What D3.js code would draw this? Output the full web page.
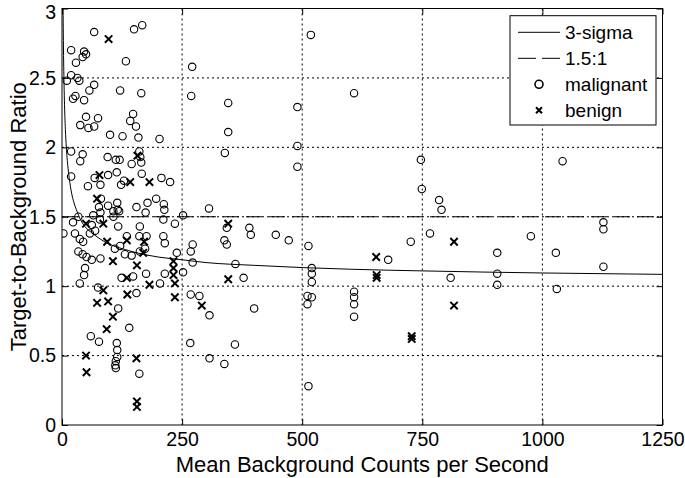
<!DOCTYPE html>
<html>
<head>
<meta charset="utf-8">
<script src="https://cdn.jsdelivr.net/npm/d3@7"></script>
<style>
body{margin:0;background:#fff;}
text{font-family:"Liberation Sans",Arial,sans-serif;fill:#000;}
</style>
</head>
<body>
<svg width="685" height="478"></svg>
<script>
//tick values of both axes
var xTicks = [0, 250, 500, 750, 1000, 1250];
var yTicks = [0, 0.5, 1, 1.5, 2, 2.5, 3];

//3-sigma threshold curve
var sigmaX = [2.25, 2.5, 3, 3.5, 4, 5, 6, 7, 8, 10, 12, 15, 20, 25, 30, 40, 50, 60, 75, 100, 125, 150, 200, 250, 300, 400, 500, 600, 750, 1000, 1250];
var sigmaY = [3.0, 2.9, 2.73, 2.6, 2.5, 2.34, 2.22, 2.13, 2.06, 1.95, 1.87, 1.78, 1.67, 1.6, 1.55, 1.47, 1.42, 1.39, 1.35, 1.3, 1.27, 1.245, 1.21, 1.19, 1.17, 1.15, 1.134, 1.122, 1.11, 1.095, 1.085];

//the fixed 1.5:1 ratio line
var ratioX = [0, 1250];
var ratioY = [1.5, 1.5];

//malignant lesions [mean background cps, target-to-background ratio]
var malignant = [
	[67,2.83],[150,2.85],[167,2.88],[19,2.70],[46,2.69],[50,2.67],[43,2.65],[29,2.61],[133,2.62],[19,2.52],
	[32,2.50],[10,2.48],[36,2.48],[67,2.45],[57,2.41],[121,2.41],[165,2.39],[28,2.37],[23,2.35],[46,2.34],
	[50,2.22],[75,2.21],[38,2.16],[55,2.14],[67,2.15],[148,2.24],[142,2.19],[154,2.15],[100,2.09],[126,2.08],
	[159,2.07],[203,2.06],[19,1.97],[43,1.95],[38,1.90],[95,1.93],[112,1.91],[120,1.91],[161,1.97],[163,1.93],
	[145,1.88],[165,1.89],[166,1.81],[19,1.79],[96,1.80],[114,1.82],[68,1.78],[54,1.72],[129,1.76],[123,1.73],
	[207,1.78],[225,1.75],[80,1.73],[81,1.63],[77,1.57],[96,1.58],[115,1.60],[116,1.55],[155,1.57],[178,1.60],
	[196,1.63],[212,1.59],[213,1.55],[174,1.53],[252,1.51],[107,1.54],[119,1.54],[80,1.53],[271,2.58],[269,2.37],
	[34,1.50],[65,1.51],[79,1.48],[107,1.50],[211,1.48],[23,1.46],[62,1.44],[117,1.43],[162,1.43],[235,1.45],
	[3,1.38],[27,1.38],[37,1.34],[44,1.32],[58,1.38],[69,1.40],[135,1.36],[161,1.36],[176,1.36],[211,1.36],
	[214,1.31],[34,1.25],[43,1.23],[51,1.21],[62,1.19],[80,1.20],[110,1.27],[121,1.29],[131,1.23],[145,1.22],
	[162,1.25],[173,1.27],[239,1.24],[48,1.13],[46,1.08],[37,1.02],[124,1.06],[148,1.07],[175,1.09],[204,1.02],
	[214,1.09],[75,0.99],[155,0.95],[117,0.84],
	[140,0.70],[60,0.64],[77,0.60],[114,0.59],[115,0.54],[115,0.49],[112,0.46],[111,0.43],[112,0.41],[161,0.37],
	[267,0.59],
	[518,2.81],[346,2.32],[346,2.11],[339,1.96],[490,2.29],[490,2.01],[490,1.86],[608,2.39],[306,1.56],[343,1.42],
	[390,1.42],[393,1.37],[445,1.37],[472,1.33],[338,1.33],[343,1.30],[272,1.30],[268,1.25],[272,1.17],[252,1.10],
	[361,1.16],[378,1.06],[513,1.29],[520,1.13],[520,1.09],[520,1.03],[511,0.93],[520,0.92],[511,0.87],[400,0.84],
	[307,0.79],[286,0.93],[268,0.94],[360,0.58],[307,0.48],[338,0.44],[513,0.28],[608,0.96],[608,0.92],[608,0.87],
	[608,0.78],
	[747,1.91],[749,1.70],[785,1.62],[790,1.55],[766,1.38],[726,1.32],[679,1.19],[809,1.06],[906,1.24],[906,1.09],
	[906,1.01],[976,1.36],[1028,1.24],[1030,0.98],[1042,1.90],[1127,1.46],[1127,1.41],[1127,1.14]
];

//benign lesions
var benign = [
	[97,2.78],[157,1.94],[78,1.80],[142,1.75],[182,1.75],[73,1.63],
	[50,1.45],[86,1.45],[94,1.32],[135,1.33],[171,1.32],[169,1.24],[106,1.18],[156,1.15],[232,1.18],
	[232,1.13],[232,1.08],[235,1.02],[235,0.92],[135,1.06],[182,1.01],[86,0.97],[73,0.88],[96,0.89],
	[136,0.94],[106,0.78],[93,0.69],
	[50,0.50],[51,0.38],[155,0.48],[156,0.17],[156,0.13],
	[346,1.45],[346,1.05],[291,0.86],[654,1.21],[655,1.08],[655,1.06],
	[816,1.32],[816,0.86],[728,0.64],[728,0.62]
];

var legendLabels = ["3-sigma", "1.5:1", "malignant", "benign"];

//plot area (avoid the name "top", it is window.top)
var plotLeft = 62, plotRight = 662.5, plotTop = 8.5, plotBottom = 425;

var svg = d3.select("svg");
svg.append("rect").attr("width", 685).attr("height", 478).style("fill", "#fff");

var x = d3.scaleLinear().domain([0, 1250]).range([plotLeft, plotRight]);
var y = d3.scaleLinear().domain([0, 3]).range([plotBottom, plotTop]);

svg.append("clipPath").attr("id", "plotClip")
	.append("rect")
	.attr("x", plotLeft).attr("y", plotTop)
	.attr("width", plotRight - plotLeft).attr("height", plotBottom - plotTop);

//dotted grid
var grid = svg.append("g").style("stroke", "#000").style("stroke-width", 1).style("stroke-dasharray", "2,3");
grid.selectAll(".gx")
	.data(xTicks.slice(1, -1))
	.enter().append("line")
	.attr("x1", function(d){ return x(d); })
	.attr("x2", function(d){ return x(d); })
	.attr("y1", plotTop).attr("y2", plotBottom);
grid.selectAll(".gy")
	.data(yTicks.slice(1, -1))
	.enter().append("line")
	.attr("x1", plotLeft).attr("x2", plotRight)
	.attr("y1", function(d){ return y(d); })
	.attr("y2", function(d){ return y(d); });

var plot = svg.append("g").attr("clip-path", "url(#plotClip)");

//1.5:1 dashed line
plot.append("path")
	.datum(d3.zip(ratioX, ratioY))
	.attr("d", d3.line().x(function(d){ return x(d[0]); }).y(function(d){ return y(d[1]); }))
	.style("fill", "none").style("stroke", "#000").style("stroke-width", 1)
	.style("stroke-dasharray", "16,7");

//3-sigma curve
plot.append("path")
	.datum(d3.zip(sigmaX, sigmaY))
	.attr("d", d3.line().curve(d3.curveMonotoneX).x(function(d){ return x(d[0]); }).y(function(d){ return y(d[1]); }))
	.style("fill", "none").style("stroke", "#000").style("stroke-width", 1);

//malignant circles
plot.selectAll(".mal")
	.data(malignant)
	.enter().append("circle")
	.attr("cx", function(d){ return x(d[0]); })
	.attr("cy", function(d){ return y(d[1]); })
	.attr("r", 3.7)
	.style("fill", "none").style("stroke", "#000").style("stroke-width", 1.1);

//benign crosses
var crossSize = 3.7;
plot.selectAll(".ben")
	.data(benign)
	.enter().append("path")
	.attr("transform", function(d){ return "translate(" + x(d[0]) + "," + y(d[1]) + ")"; })
	.attr("d", "M" + (-crossSize) + "," + (-crossSize) + "L" + crossSize + "," + crossSize +
		"M" + (-crossSize) + "," + crossSize + "L" + crossSize + "," + (-crossSize))
	.style("fill", "none").style("stroke", "#000").style("stroke-width", 2);

//axes, ticks pointing inward on all four sides
function styleAxis(g){
	g.select(".domain").remove();
	g.selectAll("line").style("stroke", "#000");
	g.selectAll("text").style("font-size", "19.5px").style("font-family", "'Liberation Sans', Arial, sans-serif");
}
svg.append("g").attr("transform", "translate(0," + plotBottom + ")")
	.call(d3.axisBottom(x).tickValues(xTicks).tickSize(-6).tickPadding(7).tickFormat(d3.format("d")))
	.call(styleAxis);
svg.append("g").attr("transform", "translate(" + plotLeft + ",0)")
	.call(d3.axisLeft(y).tickValues(yTicks).tickSize(-6).tickPadding(6).tickFormat(function(d){ return d; }))
	.call(styleAxis)
	.selectAll("text").attr("dy", function(d){ return d === 3 ? "0.5em" : "0.32em"; });
svg.append("g").attr("transform", "translate(0," + plotTop + ")")
	.call(d3.axisTop(x).tickValues(xTicks).tickSize(-6).tickFormat(""))
	.call(styleAxis);
svg.append("g").attr("transform", "translate(" + plotRight + ",0)")
	.call(d3.axisRight(y).tickValues(yTicks).tickSize(-6).tickFormat(""))
	.call(styleAxis);

//box
svg.append("rect")
	.attr("x", plotLeft).attr("y", plotTop)
	.attr("width", plotRight - plotLeft).attr("height", plotBottom - plotTop)
	.style("fill", "none").style("stroke", "#000").style("stroke-width", 1);

//axis titles
svg.append("text")
	.attr("x", (plotLeft + plotRight) / 2).attr("y", 472)
	.attr("text-anchor", "middle")
	.style("font-size", "22px")
	.text("Mean Background Counts per Second");
svg.append("text")
	.attr("transform", "translate(26," + ((plotTop + plotBottom) / 2) + ") rotate(-90)")
	.attr("text-anchor", "middle")
	.style("font-size", "22px")
	.text("Target-to-Background Ratio");

//legend
var legend = svg.append("g");
legend.append("rect")
	.attr("x", 510).attr("y", 15.7).attr("width", 146).attr("height", 109.3)
	.style("fill", "#fff").style("stroke", "#000").style("stroke-width", 1);
var rowY = function(i){ return 32.3 + i * 26; };
legend.append("line")
	.attr("x1", 518).attr("x2", 560).attr("y1", rowY(0)).attr("y2", rowY(0))
	.style("stroke", "#000");
legend.append("line")
	.attr("x1", 518).attr("x2", 560).attr("y1", rowY(1)).attr("y2", rowY(1))
	.style("stroke", "#000").style("stroke-dasharray", "18,6");
legend.append("circle")
	.attr("cx", 539).attr("cy", rowY(2)).attr("r", 4)
	.style("fill", "none").style("stroke", "#000").style("stroke-width", 1.6);
legend.append("path")
	.attr("d", "M-3,-3L3,3M-3,3L3,-3")
	.attr("transform", "translate(539," + rowY(3) + ")")
	.style("stroke", "#000").style("stroke-width", 2);
legend.selectAll(".lt")
	.data(legendLabels)
	.enter().append("text")
	.attr("x", 565)
	.attr("y", function(d, i){ return rowY(i); })
	.attr("dy", "0.35em")
	.style("font-size", "19px")
	.text(function(d){ return d; });
</script>
</body>
</html>
